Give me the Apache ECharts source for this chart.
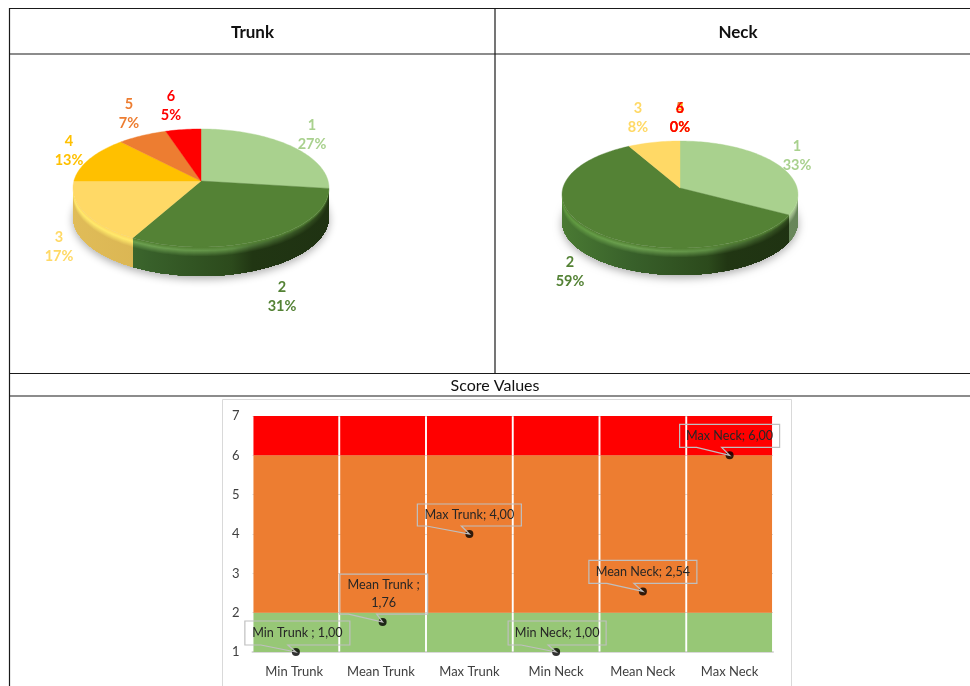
<!DOCTYPE html>
<html>
<head>
<meta charset="utf-8">
<title>Trunk and Neck scores</title>
<style>html,body{margin:0;padding:0;background:#fff;overflow:hidden}#c{width:970px;height:686px}</style>
<script src="https://cdn.jsdelivr.net/npm/echarts@6/dist/echarts.min.js"></script>
</head>
<body>
<div id="c"></div>
<script>
// Score distribution, percent of observations per score level
const scoreLevels = ['1', '2', '3', '4', '5', '6'];
const trunkValues = [27, 31, 17, 13, 7, 5];
const neckValues = [33, 59, 8, 0, 0, 0];

// Summary statistics
const statNames = ['Min Trunk ', 'Mean Trunk ', 'Max Trunk', 'Min Neck', 'Mean Neck', 'Max Neck'];
const statValues = [1.00, 1.76, 4.00, 1.00, 2.54, 6.00];

// Risk bands, stacked upward from zero: up to 2, up to 6, up to 7
const bandLow = [2, 2, 2, 2, 2, 2];
const bandMid = [4, 4, 4, 4, 4, 4];
const bandHigh = [1, 1, 1, 1, 1, 1];
const yTicks = [1, 2, 3, 4, 5, 6, 7];

const FONT = 'Lato, "Open Sans", sans-serif';
const sliceColors = ['#A9D18E', '#548235', '#FFD966', '#FFC000', '#ED7D31', '#FF0000'];
const labelColors = ['#A9D18E', '#548235', '#FFD966', '#FFC000', '#ED7D31', '#FF0000'];

// Side-wall and bevel shades of each slice, left to right across the disc
const stopAt = [0, 0.3, 0.62, 0.7, 1];
const wallShades = [
  ['#93b37d', '#8aaa74', '#7d9c68', '#72915e', '#67855a'],
  ['#4a7a33', '#38602a', '#2c4a1c', '#213613', '#1f3212'],
  ['#e0bc58', '#dab553', '#d4af50', '#cfa94d', '#c9a348'],
  ['#c99a00', '#c29400', '#ba8e00', '#b38800', '#ab8200'],
  ['#c0602a', '#b85c28', '#b05826', '#a85424', '#a05022'],
  ['#c00000', '#b80000', '#b00000', '#a80000', '#a00000']
];
const rimShades = [
  ['#c5e0b3', '#c5e0b3', '#c0dbae', '#b0cb9e', '#9ab488'],
  ['#5f9a3f', '#6c9f50', '#5f8f45', '#4a7035', '#2a4218'],
  ['#ffe96a', '#ffe96a', '#ffe96a', '#ffe566', '#ffe060'],
  ['#ffd040', '#ffd040', '#ffd040', '#ffd040', '#ffd040'],
  ['#f59a60', '#f59a60', '#f59a60', '#f59a60', '#f59a60'],
  ['#ff4040', '#ff4040', '#ff4040', '#ff4040', '#ff4040']
];

function hexMix(a, b, t) {
  const pa = parseInt(a.slice(1), 16), pb = parseInt(b.slice(1), 16);
  const ch = s => Math.round(((pa >> s) & 255) * (1 - t) + ((pb >> s) & 255) * t);
  return 'rgb(' + ch(16) + ',' + ch(8) + ',' + ch(0) + ')';
}

// Tilted disc: a circle seen under slight perspective
function makeDisc(g) {
  return {
    ...g,
    at(theta, drop) {
      const u = Math.sin(theta), v = Math.cos(theta), w = 1 + g.k * v;
      return [g.cx + g.R * u / w, g.cy - g.S * v / w + (drop || 0)];
    },
    arc(a0, a1, drop) {
      const n = Math.max(2, Math.ceil((a1 - a0) / 0.025)), pts = [];
      for (let i = 0; i <= n; i++) pts.push(this.at(a0 + (a1 - a0) * i / n, drop));
      return pts;
    }
  };
}

function sliceAngles(values, i) {
  const sum = values.reduce((a, b) => a + b, 0);
  let acc = 0;
  for (let j = 0; j < i; j++) acc += values[j];
  return [acc / sum * 2 * Math.PI, (acc + values[i]) / sum * 2 * Math.PI, values[i] / sum];
}

function wallGradient(disc, i, d) {
  const rim = rimShades[i], wall = wallShades[i], top = sliceColors[i];
  const stops = stopAt.map((o, s) => {
    let color;
    if (d >= 9) color = wall[s];
    else if (d >= 3) color = hexMix(rim[s], wall[s], (d - 3) / 6);
    else color = hexMix(top, rim[s], d / 3);
    return { offset: o, color };
  });
  const half = disc.R * 1.01;
  return new echarts.graphic.LinearGradient(disc.cx - half, 0, disc.cx + half, 0, stops, true);
}

// Drop shadow and side wall, drawn underneath all of the disc's top faces
function wallSeries(values, disc) {
  // Only the part of the rim between the disc's widest points faces the viewer
  const frontStart = Math.acos(-disc.k);
  const frontEnd = 2 * Math.PI - frontStart;
  return {
    type: 'custom', coordinateSystem: 'none', silent: true, z: 2, data: values,
    renderItem(params) {
      const i = params.dataIndex, children = [];
      if (i === 0) {
        children.push({
          type: 'polygon',
          shape: { points: disc.arc(0, 2 * Math.PI, disc.depth - 1) },
          style: { fill: '#dcdcdc', shadowColor: 'rgba(0,0,0,0.33)', shadowBlur: 9, shadowOffsetY: 4 }
        });
      }
      const [s0, s1] = sliceAngles(values, i);
      const a0 = Math.max(s0, frontStart), a1 = Math.min(s1, frontEnd);
      if (a1 > a0) {
        const lower = disc.arc(a0, a1, disc.depth).reverse();
        // Each strip reaches the wall's bottom edge and the next one paints over it
        for (let d = 0; d < disc.depth; d++) {
          children.push({
            type: 'polygon',
            shape: { points: disc.arc(a0, a1, d).concat(lower) },
            style: { fill: wallGradient(disc, i, d) }
          });
        }
      }
      return { type: 'group', children };
    }
  };
}

// Top faces plus the level and percent label of every slice
function topSeries(values, disc, labelAnchors) {
  const sum = values.reduce((a, b) => a + b, 0);
  return {
    type: 'custom', coordinateSystem: 'none', silent: true, z: 3, data: values,
    renderItem(params, api) {
      const i = params.dataIndex, children = [];
      const [a0, a1] = sliceAngles(values, i);
      if (a1 > a0) {
        children.push({
          type: 'polygon',
          shape: { points: [[disc.cx, disc.cy]].concat(disc.arc(a0, a1, 0)) },
          style: { fill: sliceColors[i], stroke: sliceColors[i], lineWidth: 0.4 }
        });
      }
      const pos = labelAnchors[i];
      children.push({
        type: 'text', z2: 5,
        style: {
          x: pos[0], y: pos[1],
          text: scoreLevels[i] + '\n' + Math.round(api.value(0) / sum * 100) + '%',
          fill: labelColors[i], font: 'bold 14.5px ' + FONT,
          lineHeight: 19, align: 'center', verticalAlign: 'middle'
        }
      });
      return { type: 'group', children };
    }
  };
}

const trunkDisc = makeDisc({ cx: 201, cy: 181, R: 127.1, S: 58.2, k: 0.1186, depth: 29 });
const neckDisc = makeDisc({ cx: 680, cy: 188, R: 117.1, S: 52.7, k: 0.1215, depth: 27 });
const trunkLabelAt = [[312, 135], [282, 297], [59, 247], [69, 151], [129, 114], [171, 106]];
const neckLabelAt = [[797, 156], [570, 272], [638, 118], [680, 118], [680, 118], [680, 118]];

// Callout boxes relative to their point: left, top, width, height, pointer base left and right
const calloutBoxes = [
  [-51, -31, 105, 24, -35, -8],
  [-43, -48, 88, 40, -34, -6],
  [-52, -30, 104, 22, -43, -8],
  [-48, -31, 98, 24, -35, -8],
  [-54, -31, 108, 23, -36, -9],
  [-50, -31, 100, 23, -33, -8]
];

const lineColor = '#1a1a1a';
const hLine = (y, x1, x2) => ({
  type: 'line', silent: true, z: 10,
  shape: { x1, y1: y, x2, y2: y }, style: { stroke: lineColor, lineWidth: 1.2 }
});
const vLine = (x, y1, y2) => ({
  type: 'line', silent: true, z: 10,
  shape: { x1: x, y1, x2: x, y2 }, style: { stroke: lineColor, lineWidth: 1.2 }
});
const heading = (text, x, y, font) => ({
  type: 'text', silent: true, z: 10,
  style: { text, x, y, font, fill: '#111', align: 'center', verticalAlign: 'middle' }
});

const bandSeries = (name, data, color) => ({
  name, type: 'bar', stack: 'bands', data, barCategoryGap: '2.2%',
  itemStyle: { color }, silent: true, z: 2
});

const chart = echarts.init(document.getElementById('c'), null, { renderer: 'canvas' });
chart.setOption({
  animation: false,
  backgroundColor: '#fff',
  textStyle: { fontFamily: FONT },
  graphic: [
    {
      type: 'rect', silent: true, z: -1,
      shape: { x: 222.5, y: 399.5, width: 569, height: 300 },
      style: { fill: '#fff', stroke: '#D9D9D9', lineWidth: 1 }
    },
    hLine(8.5, 9, 970), hLine(54, 9, 970), hLine(373.5, 9, 970), hLine(396, 9, 970),
    vLine(9.5, 8, 686), vLine(495, 8, 373.5),
    heading('Trunk', 252.5, 33, 'bold 17px ' + FONT),
    heading('Neck', 738, 33, 'bold 17px ' + FONT),
    heading('Score Values', 495, 386, '16px ' + FONT)
  ],
  grid: { left: 252.5, right: 197, top: 416, bottom: 34 },
  xAxis: {
    type: 'category', data: statNames,
    axisTick: { show: false },
    axisLine: { lineStyle: { color: '#D9D9D9', width: 2 } },
    axisLabel: { color: '#404040', fontSize: 13, margin: 13, fontFamily: FONT, interval: 0 }
  },
  yAxis: {
    type: 'value', min: yTicks[0], max: yTicks[yTicks.length - 1], interval: 1,
    axisLine: { show: false }, axisTick: { show: false },
    splitLine: { lineStyle: { color: '#D9D9D9', width: 1 } },
    axisLabel: { color: '#404040', fontSize: 13, margin: 13, fontFamily: FONT }
  },
  series: [
    bandSeries('Low', bandLow, '#97C776'),
    bandSeries('Medium', bandMid, '#ED7D31'),
    bandSeries('High', bandHigh, '#FF0000'),
    {
      name: 'Score', type: 'scatter', data: statValues, symbol: 'circle', symbolSize: 8,
      itemStyle: { color: '#000' }, silent: true, z: 4
    },
    {
      name: 'Callouts', type: 'custom', coordinateSystem: 'cartesian2d', silent: true, z: 5,
      clip: false,
      data: statValues.map((v, i) => [i, v]),
      renderItem(params, api) {
        const i = params.dataIndex;
        const p = api.coord([api.value(0), api.value(1)]);
        const [dx, dy, w, h, b0, b1] = calloutBoxes[i];
        const l = p[0] + dx, t = p[1] + dy, r = l + w, b = t + h;
        const value = api.value(1).toFixed(2).replace('.', ',');
        const text = statNames[i] + ';' + (i === 1 ? '\n' : ' ') + value;
        return {
          type: 'group',
          children: [
            {
              type: 'polygon',
              shape: { points: [[l, t], [r, t], [r, b], [p[0] + b1, b], p, [p[0] + b0, b], [l, b]] },
              style: { fill: 'none', stroke: '#BFBFBF', lineWidth: 1.2 }
            },
            {
              type: 'text',
              style: {
                x: (l + r) / 2, y: (t + b) / 2, text, fill: '#262626',
                font: '12.6px ' + FONT, lineHeight: 18, align: 'center', verticalAlign: 'middle'
              }
            }
          ]
        };
      }
    },
    wallSeries(trunkValues, trunkDisc),
    topSeries(trunkValues, trunkDisc, trunkLabelAt),
    wallSeries(neckValues, neckDisc),
    topSeries(neckValues, neckDisc, neckLabelAt)
  ]
});
</script>
</body>
</html>
